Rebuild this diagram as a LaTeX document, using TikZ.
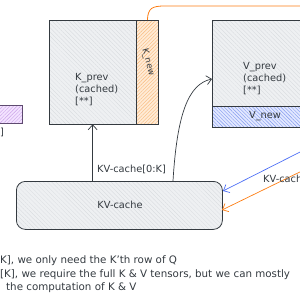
\documentclass[tikz,border=0pt]{standalone}
\usepackage{fontspec}
\setmainfont{DejaVu Sans}
\usetikzlibrary{arrows.meta,patterns.meta}
\definecolor{ink}{HTML}{343A40}
\definecolor{grayfill}{HTML}{EEF0F2}
\definecolor{grayhatch}{HTML}{D6D9DD}
\definecolor{orfill}{HTML}{FFEBD6}
\definecolor{orhatch}{HTML}{F8B878}
\definecolor{blfill}{HTML}{E2E8FF}
\definecolor{blhatch}{HTML}{8098EE}
\definecolor{pufill}{HTML}{F3E3FF}
\definecolor{puhatch}{HTML}{C9A0E8}
\definecolor{puline}{HTML}{5E4A70}
\definecolor{arrblue}{HTML}{4C6EF5}
\definecolor{arrorange}{HTML}{FD7E14}
\begin{document}
\begin{tikzpicture}[x=1pt,y=-1pt,
  every node/.style={font=\fontsize{9.8}{12}\selectfont, text=ink},
  box/.style={draw=ink, line width=0.8pt, inner sep=0pt, anchor=north west},
  gbox/.style={box, preaction={fill=grayfill}, pattern={Lines[angle=-45,distance=3pt,line width=0.3pt]}, pattern color=grayhatch},
  obox/.style={box, preaction={fill=orfill}, pattern={Lines[angle=45,distance=2.5pt,line width=0.4pt]}, pattern color=orhatch},
  bbox/.style={box, preaction={fill=blfill}, pattern={Lines[angle=-45,distance=2.5pt,line width=0.4pt]}, pattern color=blhatch},
  pbox/.style={box, draw=puline, preaction={fill=pufill}, pattern={Lines[angle=45,distance=2.5pt,line width=0.4pt]}, pattern color=puhatch},
  lbl/.style={inner sep=0pt, align=left},
  body/.style={lbl, anchor=west, font=\fontsize{10.3}{12}\selectfont},
  arr/.style={line width=0.7pt, -{Straight Barb[length=5pt,width=9pt]}},
]
\useasboundingbox (0,0) rectangle (300,300);
% purple box (cut off)
\node[pbox, minimum width=26pt, minimum height=18pt] (qbox) at (-4,105) {};
\node[lbl, anchor=west] (qlbl) at (0,132) {]};
% K_prev and K_new
\node[gbox, minimum width=87pt, minimum height=104pt] (kprev) at (49,20) {};
\node[obox, minimum width=22pt, minimum height=104pt] (knew) at (136,20) {};
\node[lbl, anchor=north west] (kprevt) at (75,73) {K\_prev\\(cached)\\{[}**{]}};
\node[lbl, rotate=-75, font=\fontsize{8.5}{10}\selectfont] (knewt) at (148,62) {K\_new};
% V_prev and V_new
\node[gbox, minimum width=95pt, minimum height=86pt] (vprev) at (212,20) {};
\node[bbox, minimum width=95pt, minimum height=21pt] (vnew) at (212,106) {};
\node[lbl, anchor=north west] (vprevt) at (243,62) {V\_prev\\(cached)\\{[}**{]}};
\node[lbl] (vnewt) at (265,116) {V\_new};
% KV-cache
\node[draw=ink, line width=0.8pt, rounded corners=9pt, preaction={fill=grayfill}, pattern={Lines[angle=-45,distance=3pt,line width=0.3pt]}, pattern color=grayhatch, minimum width=206pt, minimum height=48pt, inner sep=0pt, anchor=north west] (kv) at (16,181) {};
\node (kvt) at (120,205) {KV-cache};
% connectors
\draw[arr, draw=ink] (kv.north -| kprev.south) -- (kprev.south);
\node[lbl, anchor=west] (kvlbl) at (97,169) {KV-cache[0:K]};
\coordinate (cstart) at (173,181);
\coordinate (vin) at (212,79);
\draw[arr, draw=ink] (cstart) .. controls (177,115) and (188,84) .. (vin);
% orange line from K_new to right
\coordinate (oend) at (306,6);
\draw[line width=0.8pt, draw=arrorange] (knew.north) .. controls (148,8) and (152,6) .. (165,6) -- (oend);
% blue and orange arrows into KV-cache
\coordinate (bstart) at (306,149);
\coordinate (ostart) at (306,169);
\coordinate (bend) at (223,191);
\coordinate (oend2) at (222,210);
\draw[arr, draw=arrblue] (bstart) -- (bend);
\draw[arr, draw=arrorange] (ostart) -- (oend2);
\node[lbl, anchor=west] (kvr) at (263,179) {KV-cache};
% bottom text
\node[body] (t1) at (0,261) {K], we only need the K'th row of Q};
\node[body] (t2) at (0,275) {[K], we require the full K \& V tensors, but we can mostly};
\node[body] (t3) at (6,288) {the computation of K \& V};
\end{tikzpicture}
\end{document}
